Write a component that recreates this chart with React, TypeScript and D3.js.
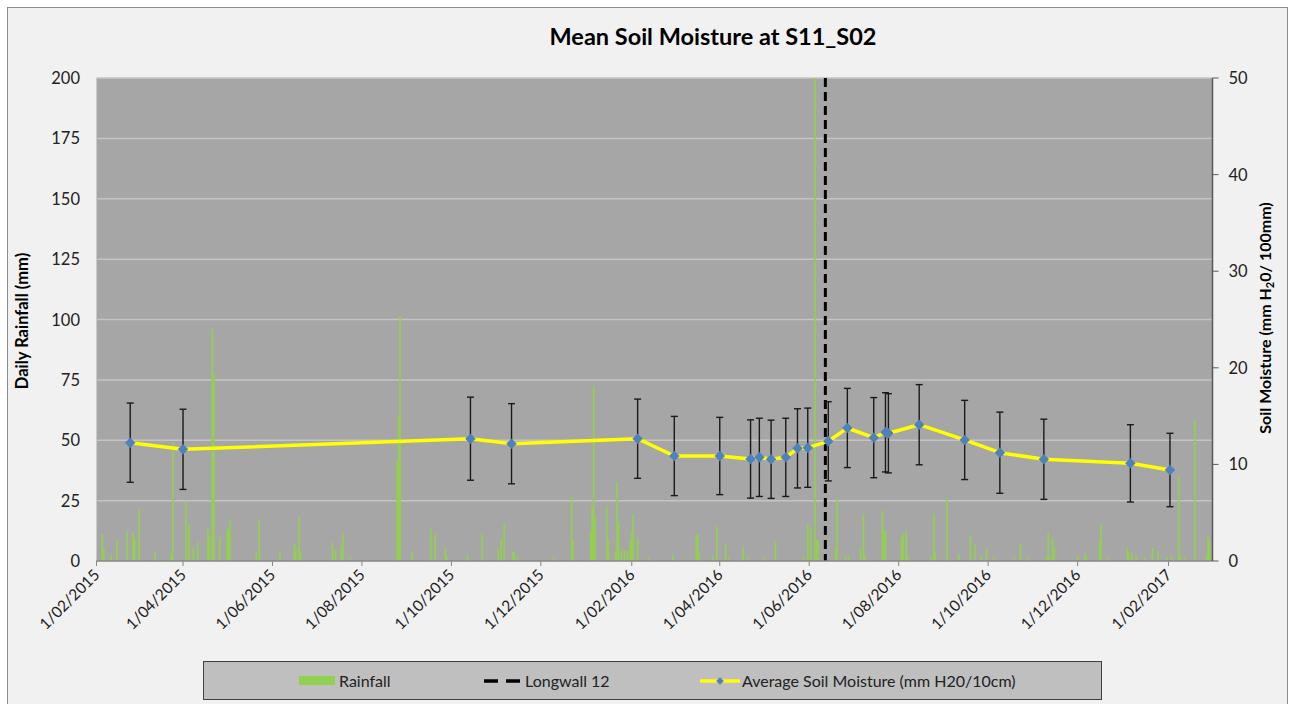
import { useEffect, useRef } from 'react';
import * as d3 from 'd3';

// daily rainfall (mm)
const rainfallDates = [
  '2015-02-05', '2015-02-06', '2015-02-11', '2015-02-15', '2015-02-22', '2015-02-26', '2015-02-27',
  '2015-03-02', '2015-03-13', '2015-03-24', '2015-03-25', '2015-04-03', '2015-04-05', '2015-04-08',
  '2015-04-11', '2015-04-18', '2015-04-19', '2015-04-21', '2015-04-22', '2015-04-26', '2015-05-01',
  '2015-05-02', '2015-05-03', '2015-05-21', '2015-05-23', '2015-06-06', '2015-06-16', '2015-06-17',
  '2015-06-19', '2015-06-20', '2015-07-12', '2015-07-14', '2015-07-18', '2015-07-19', '2015-07-24',
  '2015-08-25', '2015-08-26', '2015-08-27', '2015-09-04', '2015-09-17', '2015-09-20', '2015-09-27',
  '2015-09-28', '2015-10-12', '2015-10-22', '2015-11-02', '2015-11-04', '2015-11-06', '2015-11-12',
  '2015-11-13', '2015-11-15', '2015-12-10', '2015-12-22', '2015-12-23', '2016-01-04', '2016-01-05',
  '2016-01-06', '2016-01-07', '2016-01-15', '2016-01-16', '2016-01-21', '2016-01-22', '2016-01-23',
  '2016-01-25', '2016-01-27', '2016-01-29', '2016-01-31', '2016-02-01', '2016-02-02', '2016-02-05',
  '2016-02-13', '2016-02-29', '2016-03-16', '2016-03-17', '2016-03-18', '2016-03-27', '2016-03-30',
  '2016-04-05', '2016-04-07', '2016-04-17', '2016-04-20', '2016-05-01', '2016-05-09', '2016-05-28',
  '2016-05-31', '2016-06-02', '2016-06-05', '2016-06-06', '2016-06-07', '2016-06-19', '2016-06-20',
  '2016-06-26', '2016-06-28', '2016-07-06', '2016-07-08', '2016-07-09', '2016-07-21', '2016-07-22',
  '2016-07-23', '2016-08-03', '2016-08-04', '2016-08-06', '2016-08-07', '2016-08-23', '2016-08-25',
  '2016-08-26', '2016-09-03', '2016-09-11', '2016-09-19', '2016-09-22', '2016-09-26', '2016-09-30',
  '2016-10-05', '2016-10-19', '2016-10-23', '2016-10-28', '2016-11-10', '2016-11-11', '2016-11-12',
  '2016-11-14', '2016-11-15', '2016-12-01', '2016-12-06', '2016-12-07', '2016-12-16', '2016-12-17',
  '2016-12-22', '2017-01-04', '2017-01-05', '2017-01-07', '2017-01-10', '2017-01-16', '2017-01-21',
  '2017-01-25', '2017-01-31', '2017-02-03', '2017-02-08', '2017-02-09', '2017-02-12', '2017-02-19',
  '2017-02-27', '2017-02-28', '2017-03-01',
];
const rainfallMm = [
  11.2, 5.3, 2.5, 8.8, 12.6, 11.8, 9.4,
  21.4, 3.5, 3, 49.1, 24.6, 15.2, 5.5,
  8, 13.5, 10.6, 96.3, 77.4, 9.9, 12.6,
  13.5, 17.2, 3.5, 17.2, 4, 7.1, 5,
  17.9, 4, 7.6, 4.5, 6.5, 11.6, 1.6,
  41.1, 60, 101.4, 3.7, 13.2, 11.1, 5.5,
  1.5, 2.8, 11.2, 4.8, 9.3, 15.5, 4,
  3.5, 1.5, 1.4, 26.4, 8.4, 12, 22.6,
  72.6, 18.2, 23, 8.4, 4, 32.4, 16,
  4.3, 4.3, 4.3, 8, 12.2, 19.4, 9.6,
  1.5, 2.2, 10.4, 11.3, 3.5, 2, 14.3,
  7, 1.5, 5.5, 1.5, 1.5, 8.4, 1.5,
  15.4, 13.8, 232, 8.9, 8.9, 5, 25.7,
  1.5, 1.9, 5.5, 19.3, 1.5, 20.9, 12.6,
  12.6, 9.8, 11.6, 12.6, 2.5, 1.5, 19.5,
  3.5, 25.8, 3, 10.6, 6.8, 2, 5.1,
  1.5, 1.5, 7.1, 1.5, 2, 11.7, 1.5,
  9.7, 5.6, 1.5, 3.4, 2, 8.3, 15.2,
  1.5, 5.5, 3.5, 3.5, 2.3, 1.5, 5.5,
  4.3, 1.5, 2, 35.2, 2.5, 1.5, 58.4,
  2.6, 10.6, 8,
];

// average soil moisture (mm H2O / 100mm) with its error bar half-width
const moistureDates = [
  '2015-02-24', '2015-04-01', '2015-10-14', '2015-11-11', '2016-02-05', '2016-03-01', '2016-04-01',
  '2016-04-22', '2016-04-28', '2016-05-06', '2016-05-16', '2016-05-24', '2016-05-31', '2016-06-14',
  '2016-06-27', '2016-07-15', '2016-07-23', '2016-07-25', '2016-08-15', '2016-09-15', '2016-10-09',
  '2016-11-08', '2017-01-06', '2017-02-02',
];
const moistureMean = [
  12.25, 11.56, 12.66, 12.14, 12.66, 10.87, 10.87,
  10.56, 10.73, 10.53, 10.73, 11.66, 11.73, 12.39,
  13.77, 12.77, 13.32, 13.22, 14.11, 12.53, 11.21,
  10.53, 10.11, 9.42,
];
const moistureErr = [
  4.1, 4.15, 4.3, 4.15, 4.1, 4.1, 4.0,
  4.05, 4.05, 4.05, 4.05, 4.1, 4.1, 4.1,
  4.1, 4.15, 4.1, 4.1, 4.15, 4.1, 4.2,
  4.15, 4.0, 3.8,
];

const longwallDate = '2016-06-12';

const xTickDates = [
  '2015-02-01', '2015-04-01', '2015-06-01', '2015-08-01', '2015-10-01', '2015-12-01', '2016-02-01',
  '2016-04-01', '2016-06-01', '2016-08-01', '2016-10-01', '2016-12-01', '2017-02-01',
];
const rainTicks = [0, 25, 50, 75, 100, 125, 150, 175, 200];
const moistureTicks = [0, 10, 20, 30, 40, 50];

const FONT = 'Lato, "Open Sans", sans-serif';

const App = () => {
  const svgRef = useRef(null);

  useEffect(() => {
    const svg = d3.select(svgRef.current);
    svg.selectAll('*').remove();

    const width = 1295;
    const height = 704;
    const plot = { left: 96.5, right: 1212.5, top: 78, bottom: 561 };
    const parse = d3.timeParse('%Y-%m-%d');

    // chart area
    svg.append('rect')
      .attr('x', 0).attr('y', 0).attr('width', width).attr('height', height)
      .attr('fill', '#ffffff');
    svg.append('rect')
      .attr('x', 7.5).attr('y', 7.5).attr('width', 1280).attr('height', 700)
      .attr('fill', '#f1f1f1').attr('stroke', '#8c8c8c').attr('stroke-width', 1);

    const x = d3.scaleTime()
      .domain([parse('2015-02-01'), parse('2017-03-03')])
      .range([plot.left, plot.right]);
    const yRain = d3.scaleLinear().domain([0, 200]).range([plot.bottom, plot.top]);
    const yMoist = d3.scaleLinear().domain([0, 50]).range([plot.bottom, plot.top]);

    svg.append('rect')
      .attr('x', plot.left).attr('y', plot.top)
      .attr('width', plot.right - plot.left).attr('height', plot.bottom - plot.top)
      .attr('fill', '#a6a6a6');

    svg.append('defs').append('clipPath').attr('id', 'plot-clip')
      .append('rect')
      .attr('x', plot.left).attr('y', plot.top)
      .attr('width', plot.right - plot.left).attr('height', plot.bottom - plot.top);

    // gridlines
    svg.append('g').selectAll('line')
      .data(rainTicks.filter((t) => t > 0))
      .enter().append('line')
      .attr('x1', plot.left).attr('x2', plot.right)
      .attr('y1', (d) => yRain(d)).attr('y2', (d) => yRain(d))
      .attr('stroke', '#c4c4c4').attr('stroke-width', 1.5);

    // rainfall bars
    const dayW = x(parse('2015-02-02')) - x(parse('2015-02-01'));
    const barW = Math.max(1.7, dayW * 1.1);
    svg.append('g').attr('clip-path', 'url(#plot-clip)')
      .selectAll('rect')
      .data(rainfallDates.map((d, i) => ({ date: parse(d), mm: rainfallMm[i] })))
      .enter().append('rect')
      .attr('x', (d) => x(d.date) - barW / 2)
      .attr('y', (d) => yRain(d.mm))
      .attr('width', barW)
      .attr('height', (d) => plot.bottom - yRain(d.mm))
      .attr('fill', '#92d050');

    // longwall 12
    const lwX = x(parse(longwallDate));
    svg.append('line')
      .attr('x1', lwX).attr('x2', lwX)
      .attr('y1', plot.top).attr('y2', plot.bottom)
      .attr('stroke', '#000').attr('stroke-width', 3)
      .attr('stroke-dasharray', '9,5');

    // soil moisture
    const pts = moistureDates.map((d, i) => ({
      date: parse(d), mean: moistureMean[i], err: moistureErr[i],
    }));

    const eb = svg.append('g').attr('stroke', '#1a1a1a').attr('stroke-width', 1.4);
    pts.forEach((p) => {
      const px = x(p.date);
      const top = yMoist(p.mean + p.err);
      const bot = yMoist(p.mean - p.err);
      eb.append('line').attr('x1', px).attr('x2', px).attr('y1', top).attr('y2', bot);
      eb.append('line').attr('x1', px - 3.5).attr('x2', px + 3.5).attr('y1', top).attr('y2', top);
      eb.append('line').attr('x1', px - 3.5).attr('x2', px + 3.5).attr('y1', bot).attr('y2', bot);
    });

    const line = d3.line()
      .x((d) => x(d.date))
      .y((d) => yMoist(d.mean));
    svg.append('path')
      .datum(pts)
      .attr('fill', 'none')
      .attr('stroke', '#ffff00')
      .attr('stroke-width', 3.5)
      .attr('stroke-linejoin', 'round')
      .attr('d', line);

    const diamond = d3.symbol(d3.symbolSquare, 55);
    svg.append('g').selectAll('path')
      .data(pts)
      .enter().append('path')
      .attr('d', diamond)
      .attr('transform', (d) => `translate(${x(d.date)},${yMoist(d.mean)}) rotate(45)`)
      .attr('fill', '#4f81bd');

    // x axis
    const xAxis = svg.append('g');
    xAxis.append('line')
      .attr('x1', plot.left).attr('x2', plot.right)
      .attr('y1', plot.bottom).attr('y2', plot.bottom)
      .attr('stroke', '#868686').attr('stroke-width', 1.5);
    const fmt = d3.timeFormat('%-d/%m/%Y');
    xTickDates.forEach((t) => {
      const tx = x(parse(t));
      xAxis.append('line')
        .attr('x1', tx).attr('x2', tx)
        .attr('y1', plot.bottom).attr('y2', plot.bottom + 5)
        .attr('stroke', '#868686').attr('stroke-width', 1);
      xAxis.append('text')
        .attr('transform', `translate(${tx + 4},${plot.bottom + 15}) rotate(-45)`)
        .attr('text-anchor', 'end')
        .attr('font-family', FONT)
        .attr('font-size', 15.5)
        .attr('fill', '#222')
        .text(fmt(parse(t)));
    });

    // left axis labels
    svg.append('g').selectAll('text')
      .data(rainTicks)
      .enter().append('text')
      .attr('x', 80)
      .attr('y', (d) => yRain(d) + 6)
      .attr('text-anchor', 'end')
      .attr('font-family', FONT)
      .attr('font-size', 16.5)
      .attr('fill', '#222')
      .text((d) => d);

    // right axis
    const rAxis = svg.append('g');
    rAxis.append('line')
      .attr('x1', plot.right).attr('x2', plot.right)
      .attr('y1', plot.top).attr('y2', plot.bottom)
      .attr('stroke', '#595959').attr('stroke-width', 1.5);
    moistureTicks.forEach((t) => {
      rAxis.append('line')
        .attr('x1', plot.right).attr('x2', plot.right + 6)
        .attr('y1', yMoist(t)).attr('y2', yMoist(t))
        .attr('stroke', '#595959').attr('stroke-width', 1);
      rAxis.append('text')
        .attr('x', plot.right + 16)
        .attr('y', yMoist(t) + 6)
        .attr('font-family', FONT)
        .attr('font-size', 16.5)
        .attr('fill', '#222')
        .text(t);
    });

    // titles
    svg.append('text')
      .attr('x', 713).attr('y', 45)
      .attr('text-anchor', 'middle')
      .attr('font-family', FONT)
      .attr('font-size', 23.5)
      .attr('font-weight', 'bold')
      .attr('fill', '#000')
      .text('Mean Soil Moisture at S11_S02');

    svg.append('text')
      .attr('transform', 'translate(28,321) rotate(-90)')
      .attr('text-anchor', 'middle')
      .attr('font-family', FONT)
      .attr('font-size', 16.5)
      .attr('font-weight', 'bold')
      .attr('fill', '#000')
      .text('Daily Rainfall (mm)');

    const rTitle = svg.append('text')
      .attr('transform', 'translate(1271,318) rotate(-90)')
      .attr('text-anchor', 'middle')
      .attr('font-family', FONT)
      .attr('font-size', 16)
      .attr('font-weight', 'bold')
      .attr('fill', '#000');
    rTitle.append('tspan').text('Soil Moisture (mm H');
    rTitle.append('tspan').attr('font-size', 11).attr('dy', 3).text('2');
    rTitle.append('tspan').attr('dy', -3).text('0/ 100mm)');

    // legend
    const lg = svg.append('g');
    lg.append('rect')
      .attr('x', 203.5).attr('y', 661.5).attr('width', 898).attr('height', 38)
      .attr('fill', '#bfbfbf').attr('stroke', '#404040').attr('stroke-width', 1);
    const ly = 681;
    lg.append('rect')
      .attr('x', 299).attr('y', ly - 5).attr('width', 36).attr('height', 9)
      .attr('fill', '#92d050');
    lg.append('text')
      .attr('x', 339).attr('y', ly + 5.5)
      .attr('font-family', FONT).attr('font-size', 16).attr('fill', '#222')
      .text('Rainfall');
    lg.append('line')
      .attr('x1', 484).attr('x2', 520).attr('y1', ly).attr('y2', ly)
      .attr('stroke', '#000').attr('stroke-width', 3.5)
      .attr('stroke-dasharray', '14,8');
    lg.append('text')
      .attr('x', 525).attr('y', ly + 5.5)
      .attr('font-family', FONT).attr('font-size', 16).attr('fill', '#222')
      .text('Longwall 12');
    lg.append('line')
      .attr('x1', 700).attr('x2', 740).attr('y1', ly).attr('y2', ly)
      .attr('stroke', '#ffff00').attr('stroke-width', 3.5);
    lg.append('path')
      .attr('d', d3.symbol(d3.symbolSquare, 30))
      .attr('transform', `translate(720,${ly}) rotate(45)`)
      .attr('fill', '#4f81bd');
    lg.append('text')
      .attr('x', 742).attr('y', ly + 5.5)
      .attr('font-family', FONT).attr('font-size', 16).attr('fill', '#222')
      .text('Average Soil Moisture (mm H20/10cm)');
  }, []);

  return (
    <div style={{ position: 'absolute', left: 0, top: 0 }}>
      <svg ref={svgRef} width={1295} height={704} style={{ display: 'block' }}></svg>
    </div>
  );
};

export default App;
